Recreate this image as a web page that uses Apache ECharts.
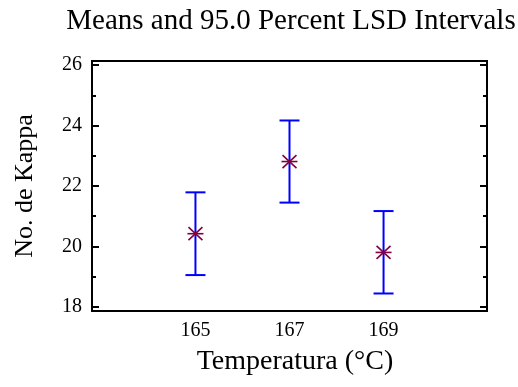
<!DOCTYPE html>
<html>
<head>
<meta charset="utf-8">
<script src="https://cdn.jsdelivr.net/npm/echarts@6/dist/echarts.min.js"></script>
<style>html,body{margin:0;padding:0;background:#fff;}#chart{width:518px;height:387px;}</style>
</head>
<body>
<div id="chart"></div>
<script>
var temperatures = [165, 167, 169];
var means = [20.42, 22.81, 19.80];
var lowerLimits = [19.05, 21.45, 18.44];
var upperLimits = [21.79, 24.17, 21.17];
var xTickLabels = [165, 167, 169];
var yTickLabels = [18, 20, 22, 24, 26];
var yMinorTicks = [19, 21, 23, 25];

var FONT = '"Liberation Serif", "Times New Roman", serif';
var data = temperatures.map(function (t, i) { return [t, lowerLimits[i], upperLimits[i], means[i]]; });

var chart = echarts.init(document.getElementById('chart'), null, {renderer: 'canvas'});

function renderItem(params, api) {
  var x = api.value(0);
  var lo = api.coord([x, api.value(1)]);
  var hi = api.coord([x, api.value(2)]);
  var mid = api.coord([x, api.value(3)]);
  var cap = 10;
  var blue = {stroke: '#0000ff', lineWidth: 2};
  var mk = {stroke: '#800040', lineWidth: 1.6};
  return {
    type: 'group',
    children: [
      {type: 'line', shape: {x1: lo[0], y1: lo[1], x2: hi[0], y2: hi[1]}, style: blue},
      {type: 'line', shape: {x1: hi[0] - cap, y1: hi[1], x2: hi[0] + cap, y2: hi[1]}, style: blue},
      {type: 'line', shape: {x1: lo[0] - cap, y1: lo[1], x2: lo[0] + cap, y2: lo[1]}, style: blue},
      {type: 'line', shape: {x1: mid[0] - 8, y1: mid[1], x2: mid[0] + 8, y2: mid[1]}, style: mk},
      {type: 'line', shape: {x1: mid[0] - 7, y1: mid[1] - 6.5, x2: mid[0] + 7, y2: mid[1] + 6.5}, style: mk},
      {type: 'line', shape: {x1: mid[0] - 7, y1: mid[1] + 6.5, x2: mid[0] + 7, y2: mid[1] - 6.5}, style: mk}
    ]
  };
}

var yBase = {
  type: 'value', min: 17.86, max: 26.14, splitLine: {show: false},
  axisLine: {show: false}
};

var option = {
  animation: false,
  backgroundColor: '#ffffff',
  title: {
    text: 'Means and 95.0 Percent LSD Intervals',
    left: 286, textAlign: 'center', top: 2,
    textStyle: {fontFamily: FONT, fontSize: 29, fontWeight: 'normal', color: '#000'}
  },
  grid: {left: 92, right: 31, top: 61, bottom: 76, show: true, borderColor: '#000', borderWidth: 2, backgroundColor: 'transparent'},
  xAxis: {
    type: 'value', min: 162.8, max: 171.2,
    name: 'Temperatura (°C)', nameLocation: 'middle', nameGap: 37,
    nameTextStyle: {fontFamily: FONT, fontSize: 28, color: '#000', padding: [0, 0, 0, 11]},
    axisLine: {show: true, lineStyle: {color: '#000', width: 2}},
    axisTick: {show: false},
    splitLine: {show: false},
    axisLabel: {customValues: xTickLabels, fontFamily: FONT, fontSize: 20, color: '#000', margin: 10}
  },
  yAxis: [
    Object.assign({}, yBase, {
      position: 'left',
      name: 'No. de Kappa', nameLocation: 'middle', nameGap: 54,
      nameTextStyle: {fontFamily: FONT, fontSize: 26, color: '#000'},
      axisLine: {show: true, lineStyle: {color: '#000', width: 2}},
      axisTick: {show: true, inside: true, length: 7, customValues: yTickLabels, lineStyle: {color: '#000', width: 2}},
      axisLabel: {customValues: yTickLabels, fontFamily: FONT, fontSize: 20, color: '#000', margin: 10}
    }),
    Object.assign({}, yBase, {
      position: 'left',
      axisTick: {show: true, inside: true, length: 4, customValues: yMinorTicks, lineStyle: {color: '#000', width: 2}},
      axisLabel: {show: false}
    }),
    Object.assign({}, yBase, {
      position: 'right',
      axisTick: {show: true, inside: true, length: 7, customValues: yTickLabels, lineStyle: {color: '#000', width: 2}},
      axisLabel: {show: false}
    }),
    Object.assign({}, yBase, {
      position: 'right',
      axisTick: {show: true, inside: true, length: 4, customValues: yMinorTicks, lineStyle: {color: '#000', width: 2}},
      axisLabel: {show: false}
    })
  ],
  series: [{
    type: 'custom',
    renderItem: renderItem,
    data: data,
    encode: {x: 0, y: [1, 2, 3]},
    clip: false
  }]
};
chart.setOption(option);
</script>
</body>
</html>
